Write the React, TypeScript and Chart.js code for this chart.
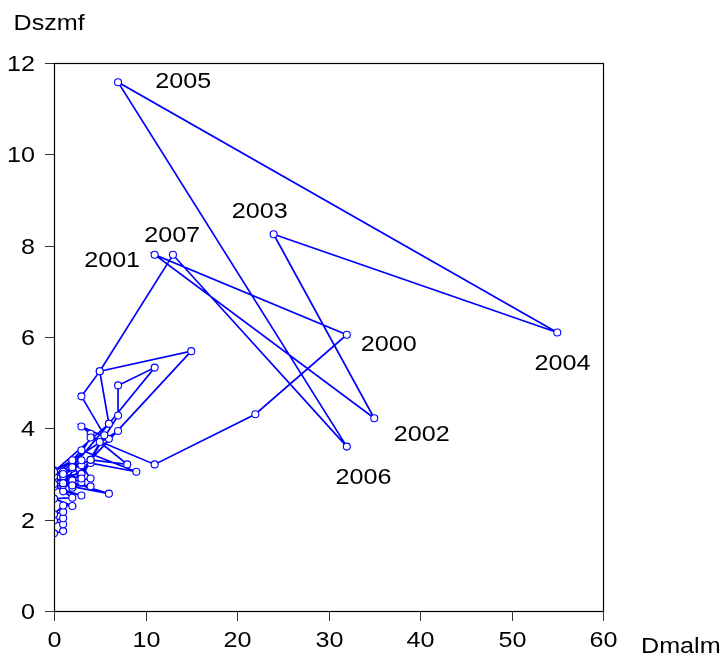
import React, { useEffect, useRef } from "react";
import { Chart, registerables } from "chart.js";

Chart.register(...registerables);

// Series values (x = Dmalm, y = Dszmf), in path order
const dmalm: number[] = [
  0, 1, 1, 0, 1, 1, 0, 1, 2, 0, 2, 1, 3, 0, 2, 6, 1, 4, 0, 2,
  3, 1, 2, 0, 3, 2, 1, 3, 4, 0, 2, 3, 1, 4, 9, 3, 2, 0, 4, 8,
  5, 4, 3, 6, 7, 0, 6, 11, 7, 7, 3, 5.5, 3, 5, 6, 2, 4, 11, 22,
  32, 11, 35, 24, 55, 7, 32, 13,
  5, 15, 4, 3, 1, 2,
];
const dszmf: number[] = [
  1.70, 1.75, 1.90, 1.98, 2.03, 2.17, 2.12, 2.31, 2.30, 2.46, 2.48, 2.62, 2.53, 2.72, 2.81, 2.57, 2.76, 2.73, 2.88, 2.86,
  3.01, 2.95, 2.70, 3.08, 2.82, 3.26, 3.05, 3.19, 2.90, 2.78, 3.12, 3.30, 2.80, 3.24, 3.05, 3.52, 3.30, 2.95, 3.31, 3.21,
  3.70, 3.88, 4.04, 3.77, 3.94, 3.05, 4.10, 5.33, 4.94, 4.28, 3.00, 3.85, 4.70, 5.25, 4.10, 3.15, 3.80, 3.21, 4.31,
  6.05, 7.80, 4.22, 8.25, 6.10, 11.58, 3.60, 7.80,
  5.25, 5.69, 3.31, 2.90, 3.00, 2.75,
];
const yearLabels: string[] = [
  "", "", "", "", "", "", "", "", "", "", "", "", "", "", "", "", "", "", "", "",
  "", "", "", "", "", "", "", "", "", "", "", "", "", "", "", "", "", "", "", "",
  "", "", "", "", "", "", "", "", "", "", "", "", "", "", "", "", "", "", "",
  "2000", "2001", "2002", "2003", "2004", "2005", "2006", "2007",
  "", "", "", "", "", "",
];

// Axis ticks and titles
const xTicks: number[] = [0, 10, 20, 30, 40, 50, 60];
const yTicks: number[] = [0, 2, 4, 6, 8, 10, 12];
const xTitle = "Dmalm";
const yTitle = "Dszmf";

// Label placement (styling): offset of text left/baseline from the point
const labelOffsets: Record<string, [number, number]> = {
  "2000": [14, 16.7],
  "2001": [-70.5, 12],
  "2002": [19.5, 22.4],
  "2003": [-41.8, -16.3],
  "2004": [-22.8, 37.3],
  "2005": [37.2, 6],
  "2006": [-11.2, 37.7],
  "2007": [-28.8, -12.6],
};

const FONT = '21.5px "Liberation Sans", Arial, sans-serif';
const SX = 1.17;

function stretchedText(ctx: CanvasRenderingContext2D, text: string, x: number, y: number, align: CanvasTextAlign) {
  ctx.save();
  ctx.translate(x, y);
  ctx.scale(SX, 1);
  ctx.textAlign = align;
  ctx.textBaseline = "alphabetic";
  ctx.fillText(text, 0, 0);
  ctx.restore();
}

const framePlugin = {
  id: "framePlugin",
  afterDraw(chart: any) {
    const ctx: CanvasRenderingContext2D = chart.ctx;
    const { left, right, top, bottom } = chart.chartArea;
    const xs = chart.scales.x;
    const ys = chart.scales.y;
    ctx.save();
    // frame
    ctx.strokeStyle = "#000";
    ctx.lineWidth = 1.2;
    ctx.strokeRect(Math.round(left) + 0.5, Math.round(top) + 0.5, Math.round(right - left), Math.round(bottom - top));
    // ticks
    ctx.strokeStyle = "#333";
    ctx.lineWidth = 1;
    ctx.fillStyle = "#000";
    ctx.font = FONT;
    for (const v of yTicks) {
      const py = Math.round(ys.getPixelForValue(v)) + 0.5;
      ctx.beginPath();
      ctx.moveTo(left - 9, py);
      ctx.lineTo(left, py);
      ctx.stroke();
      stretchedText(ctx, String(v), 35, py + 7, "right");
    }
    for (const v of xTicks) {
      const px = Math.round(xs.getPixelForValue(v)) + 0.5;
      ctx.beginPath();
      ctx.moveTo(px, bottom);
      ctx.lineTo(px, bottom + 10);
      ctx.stroke();
      stretchedText(ctx, String(v), px, 646.5, "center");
    }
    // titles
    stretchedText(ctx, yTitle, 13.5, 30, "left");
    stretchedText(ctx, xTitle, 641, 652.5, "left");
    // year labels
    const meta = chart.getDatasetMeta(0);
    yearLabels.forEach((lab, i) => {
      if (!lab) return;
      const el = meta.data[i];
      const off = labelOffsets[lab] || [8, -8];
      stretchedText(ctx, lab, el.x + off[0], el.y + off[1], "left");
    });
    ctx.restore();
  },
};

export default function App() {
  const ref = useRef<HTMLCanvasElement | null>(null);
  useEffect(() => {
    document.body.style.margin = "0";
    const canvas = ref.current;
    if (!canvas) return;
    const data = dmalm.map((x, i) => ({ x, y: dszmf[i] }));
    const chart = new Chart(canvas, {
      type: "scatter",
      data: {
        datasets: [
          {
            data,
            showLine: true,
            borderColor: "#0000FF",
            borderWidth: 1.7,
            pointRadius: 3.5,
            pointBorderWidth: 1.1,
            pointBackgroundColor: "#FFFFFF",
            pointBorderColor: "#0000FF",
            tension: 0,
          } as any,
        ],
      },
      options: {
        responsive: false,
        animation: false,
        devicePixelRatio: 1,
        layout: { padding: { left: 54, top: 63, right: 122, bottom: 47 } },
        plugins: { legend: { display: false }, tooltip: { enabled: false } },
        scales: {
          x: { type: "linear", min: 0, max: 60, display: false },
          y: { type: "linear", min: 0, max: 12, display: false },
        },
      },
      plugins: [framePlugin],
    });
    return () => chart.destroy();
  }, []);
  return (
    <div style={{ position: "absolute", left: 0, top: 0, width: 725, height: 658, background: "#fff" }}>
      <canvas ref={ref} width={725} height={658} style={{ width: 725, height: 658 }} />
    </div>
  );
}
